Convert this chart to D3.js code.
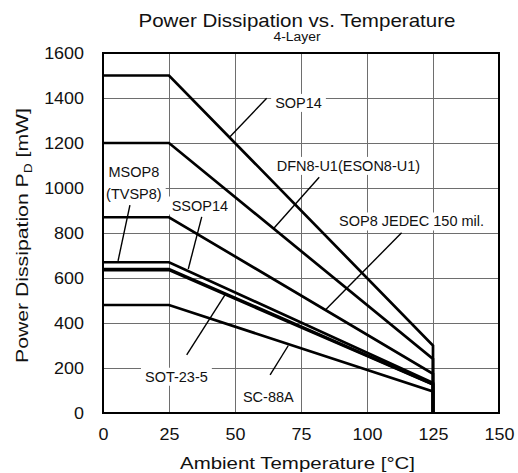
<!DOCTYPE html>
<html>
<head>
<meta charset="utf-8">
<script src="https://cdn.jsdelivr.net/npm/d3@7"></script>
<style>
  body { margin: 0; background: #fff; }
  svg text { font-family: "Liberation Sans", Arial, Helvetica, sans-serif; fill: #111; }
</style>
</head>
<body>
<div id="chart"></div>
<script>
const W = 518, H = 473;
const margin = {top: 53, right: 19, bottom: 60, left: 103};
const iw = W - margin.left - margin.right;
const ih = H - margin.top - margin.bottom;

// axis ticks
const xTicks = [0, 25, 50, 75, 100, 125, 150];
const yTicks = [0, 200, 400, 600, 800, 1000, 1200, 1400, 1600];

// derating curves: flat up to 25 C, linear down to 125 C, then drop to zero
const tempPts = [0, 25, 125, 125];
const sop14  = [1500, 1500, 300, 0];
const dfn8   = [1200, 1200, 240, 0];
const sop8   = [870, 870, 174, 0];
const msop8  = [670, 670, 134, 0];
const ssop14 = [640, 640, 128, 0];
const sot235 = [635, 635, 127, 0];
const sc88a  = [480, 480, 96, 0];
const series = [sop14, dfn8, sop8, msop8, ssop14, sot235, sc88a];

// callout labels (text anchor and leader in data units)
const callouts = [
  {lines: ["SOP14"], at: [65.2, 1356], from: [62, 1399], to: [48.1, 1228]},
  {lines: ["DFN8-U1(ESON8-U1)"], at: [65.8, 1076], from: [81.9, 1048], to: [64.8, 822]},
  {lines: ["SOP8 JEDEC 150 mil."], at: [89.4, 829], from: [113.1, 801], to: [84.4, 460]},
  {lines: ["MSOP8", "(TVSP8)"], at: [11.7, 1050], from: [10.2, 924], to: [5.7, 676], center: true},
  {lines: ["SSOP14"], at: [26, 900], from: [37.4, 872], to: [32.3, 640]},
  {lines: ["SOT-23-5"], at: [15.9, 139], from: [31.7, 258], to: [46.2, 525]},
  {lines: ["SC-88A"], at: [53, 50], from: [63.3, 169], to: [70.2, 300]}
];

const x = d3.scaleLinear().domain([0, 150]).range([0, iw]);
const y = d3.scaleLinear().domain([0, 1600]).range([ih, 0]);

function stretch(sel, k) {
  sel.each(function() {
    const L = this.getComputedTextLength();
    d3.select(this).attr("textLength", L * k).attr("lengthAdjust", "spacingAndGlyphs");
  });
}

const svg = d3.select("#chart").append("svg")
    .attr("width", W)
    .attr("height", H);

// titles
svg.append("text")
    .attr("x", 297).attr("y", 27)
    .attr("text-anchor", "middle")
    .attr("font-size", 19)
    .attr("textLength", 317).attr("lengthAdjust", "spacingAndGlyphs")
    .text("Power Dissipation vs. Temperature");

svg.append("text")
    .attr("x", 297).attr("y", 41)
    .attr("text-anchor", "middle")
    .attr("font-size", 12)
    .attr("textLength", 47).attr("lengthAdjust", "spacingAndGlyphs")
    .text("4-Layer");

const g = svg.append("g")
    .attr("transform", "translate(" + margin.left + "," + margin.top + ")");

// grid + tick labels
const gx = g.append("g")
    .attr("transform", "translate(0," + ih + ")")
    .call(d3.axisBottom(x).tickValues(xTicks).tickFormat(d3.format("d"))
        .tickSize(-ih).tickPadding(16));
const gy = g.append("g")
    .call(d3.axisLeft(y).tickValues(yTicks).tickFormat(d3.format("d"))
        .tickSize(-iw).tickPadding(19));

[gx, gy].forEach(function(a) {
  a.select(".domain").remove();
  a.selectAll(".tick line").attr("stroke", "#6e6e6e").attr("stroke-width", 1);
  a.selectAll(".tick text").attr("font-size", 16).attr("font-family", null);
  stretch(a.selectAll(".tick text"), 1.12);
});

const boxLayer = g.append("g");
const borderLayer = g.append("g");
const lineLayer = g.append("g");
const leaderLayer = g.append("g");
const textLayer = g.append("g");

borderLayer.append("rect")
    .attr("width", iw).attr("height", ih)
    .attr("fill", "none")
    .attr("stroke", "#000")
    .attr("stroke-width", 2);

const line = d3.line()
    .x(function(d, i) { return x(tempPts[i]); })
    .y(function(d) { return y(d); });

lineLayer.selectAll("path")
    .data(series)
    .enter()
    .append("path")
    .attr("d", line)
    .attr("fill", "none")
    .attr("stroke", "#000")
    .attr("stroke-width", 2.7)
    .attr("stroke-linejoin", "miter");

leaderLayer.selectAll("line")
    .data(callouts)
    .enter()
    .append("line")
    .attr("x1", function(d) { return x(d.from[0]); })
    .attr("y1", function(d) { return y(d.from[1]); })
    .attr("x2", function(d) { return x(d.to[0]); })
    .attr("y2", function(d) { return y(d.to[1]); })
    .attr("stroke", "#000")
    .attr("stroke-width", 1.4);

callouts.forEach(function(c) {
  const t = textLayer.append("text")
      .attr("font-size", 14.5)
      .attr("text-anchor", c.center ? "middle" : "start");
  c.lines.forEach(function(s, i) {
    t.append("tspan")
        .attr("x", x(c.at[0]))
        .attr("y", y(c.at[1]) + i * 22)
        .text(s);
  });
  const b = t.node().getBBox();
  boxLayer.append("rect")
      .attr("x", b.x - 4).attr("y", b.y - 1)
      .attr("width", b.width + 8).attr("height", b.height + 2)
      .attr("fill", "#fff");
});

// axis titles
svg.append("text")
    .attr("x", 297.5).attr("y", 469)
    .attr("text-anchor", "middle")
    .attr("font-size", 17)
    .attr("textLength", 235).attr("lengthAdjust", "spacingAndGlyphs")
    .text("Ambient Temperature [\u00B0C]");

const yt = svg.append("text")
    .attr("transform", "translate(28,235.5) rotate(-90)")
    .attr("text-anchor", "middle")
    .attr("font-size", 17);
yt.append("tspan").text("Power Dissipation P");
yt.append("tspan").attr("font-size", 11).attr("dy", 4).text("D");
yt.append("tspan").attr("dy", -4).text(" [mW]");
yt.attr("textLength", 255).attr("lengthAdjust", "spacingAndGlyphs");
</script>
</body>
</html>
